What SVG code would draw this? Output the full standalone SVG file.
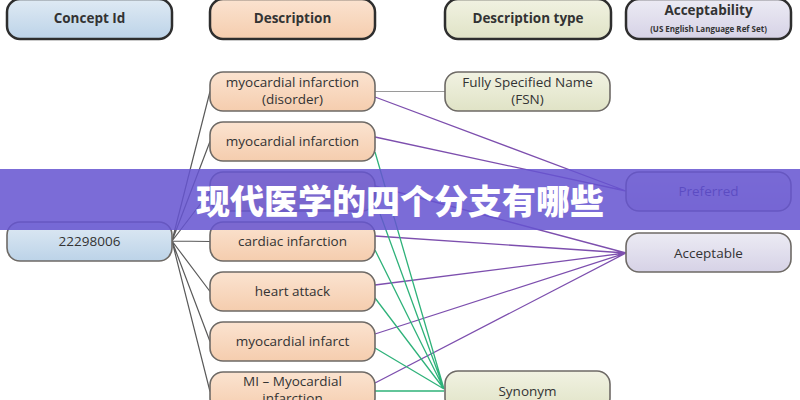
<svg xmlns="http://www.w3.org/2000/svg" width="800" height="400" viewBox="0 0 800 400">
<defs>
<linearGradient id="gBlue" x1="0" y1="0" x2="0" y2="1"><stop offset="0" stop-color="#dfeaf4"/><stop offset="1" stop-color="#bcd3e8"/></linearGradient>
<linearGradient id="gPeach" x1="0" y1="0" x2="0" y2="1"><stop offset="0" stop-color="#fbe3d0"/><stop offset="1" stop-color="#f5cdae"/></linearGradient>
<linearGradient id="gOlive" x1="0" y1="0" x2="0" y2="1"><stop offset="0" stop-color="#f1f2e2"/><stop offset="1" stop-color="#e0e3c6"/></linearGradient>
<linearGradient id="gLav" x1="0" y1="0" x2="0" y2="1"><stop offset="0" stop-color="#ecebf4"/><stop offset="1" stop-color="#d6d2e6"/></linearGradient>
<style>
.hdr{stroke:#2e2e2e;stroke-width:2.5}
.box{stroke:#6e6a66;stroke-width:1.6}
.t{font-family:"Open Sans","Liberation Sans",sans-serif;font-size:13.5px;fill:#333;text-anchor:middle}
.tb{font-family:"Open Sans","Liberation Sans",sans-serif;font-size:13.5px;font-weight:bold;fill:#333;text-anchor:middle}
.ts{font-family:"Open Sans","Liberation Sans",sans-serif;font-size:8px;font-weight:bold;fill:#333;text-anchor:middle}
.gray{stroke:#5a5a5a;stroke-width:1.2;fill:none}
.lgray{stroke:#9a9a9a;stroke-width:1.2;fill:none}
.pur{stroke:#7d4fae;stroke-width:1.3;fill:none}
.grn{stroke:#2fb27a;stroke-width:1.3;fill:none}
</style>
</defs>
<rect width="800" height="400" fill="#ffffff"/>
<g id="connectors">
<path class="gray" d="M172 241 L210 91.5 M172 241 L210 141.5 M172 241 L210 191.5 M172 241 L210 241.5 M172 241 L210 291.5 M172 241 L210 341.5 M172 241 L210 391.5"/>
<path class="lgray" d="M375 91.5 L445 91.5"/>
<path class="pur" d="M375 97 L626 191 M375 137 L626 191"/>
<path class="pur" d="M375 186 L626 253 M375 236 L626 253 M375 285 L626 253 M375 334 L626 253 M375 383 L626 253"/>
<path class="grn" d="M375 152 L444 389 M375 200 L444 389 M375 250 L444 389 M375 298 L444 389 M375 348 L444 389 M375 391 L444 391"/>
</g>
<g id="hdr-concept"><rect class="hdr" x="7" y="-1" width="165" height="40" rx="13" fill="url(#gBlue)"/><text class="tb" x="89.5" y="23">Concept Id</text></g>
<g id="hdr-description"><rect class="hdr" x="210" y="-1" width="165" height="40" rx="13" fill="url(#gPeach)"/><text class="tb" x="292.5" y="23">Description</text></g>
<g id="hdr-type"><rect class="hdr" x="445" y="-1" width="166" height="40" rx="13" fill="url(#gOlive)"/><text class="tb" x="528" y="23">Description type</text></g>
<g id="hdr-accept"><rect class="hdr" x="626" y="-1" width="165" height="40" rx="13" fill="url(#gLav)"/><text class="tb" x="708.5" y="15">Acceptability</text><text class="ts" x="708.5" y="32">(US English Language Ref Set)</text></g>
<g id="concept"><rect class="box" x="7" y="222" width="165" height="39" rx="13" fill="url(#gBlue)"/><text class="t" x="89.5" y="246">22298006</text></g>
<g id="d1"><rect class="box" x="210" y="72" width="165" height="39" rx="13" fill="url(#gPeach)"/><text class="t" x="292.5" y="87">myocardial infarction</text><text class="t" x="292.5" y="104">(disorder)</text></g>
<g id="d2"><rect class="box" x="210" y="122" width="165" height="39" rx="13" fill="url(#gPeach)"/><text class="t" x="292.5" y="146">myocardial infarction</text></g>
<g id="d3"><rect class="box" x="210" y="172" width="165" height="39" rx="13" fill="url(#gPeach)"/></g>
<g id="d4"><rect class="box" x="210" y="222" width="165" height="39" rx="13" fill="url(#gPeach)"/><text class="t" x="292.5" y="246">cardiac infarction</text></g>
<g id="d5"><rect class="box" x="210" y="272" width="165" height="39" rx="13" fill="url(#gPeach)"/><text class="t" x="292.5" y="296">heart attack</text></g>
<g id="d6"><rect class="box" x="210" y="322" width="165" height="39" rx="13" fill="url(#gPeach)"/><text class="t" x="292.5" y="346">myocardial infarct</text></g>
<g id="d7"><rect class="box" x="210" y="372" width="165" height="39" rx="13" fill="url(#gPeach)"/><text class="t" x="292.5" y="386">MI – Myocardial</text><text class="t" x="292.5" y="403">infarction</text></g>
<g id="fsn"><rect class="box" x="445" y="72" width="165" height="39" rx="13" fill="url(#gOlive)"/><text class="t" x="527.5" y="87">Fully Specified Name</text><text class="t" x="527.5" y="104">(FSN)</text></g>
<g id="synonym"><rect class="box" x="445" y="371" width="165" height="40" rx="13" fill="url(#gOlive)"/><text class="t" x="527.5" y="396">Synonym</text></g>
<g id="preferred"><rect class="box" x="626" y="172" width="165" height="39" rx="13" fill="url(#gLav)"/><text class="t" x="708.5" y="196" fill="#1e1a6a" style="fill:#1e1a6a">Preferred</text></g>
<g id="acceptable"><rect class="box" x="626" y="233" width="165" height="39" rx="13" fill="url(#gLav)"/><text class="t" x="708.5" y="258">Acceptable</text></g>
<g id="banner">
<rect x="0" y="169" width="800" height="61" fill="#6554d0" opacity="0.86"/>
<text x="400" y="214" font-family="'Noto Sans CJK SC',sans-serif" font-size="34" font-weight="900" fill="#ffffff" text-anchor="middle">现代医学的四个分支有哪些</text>
</g>
</svg>
